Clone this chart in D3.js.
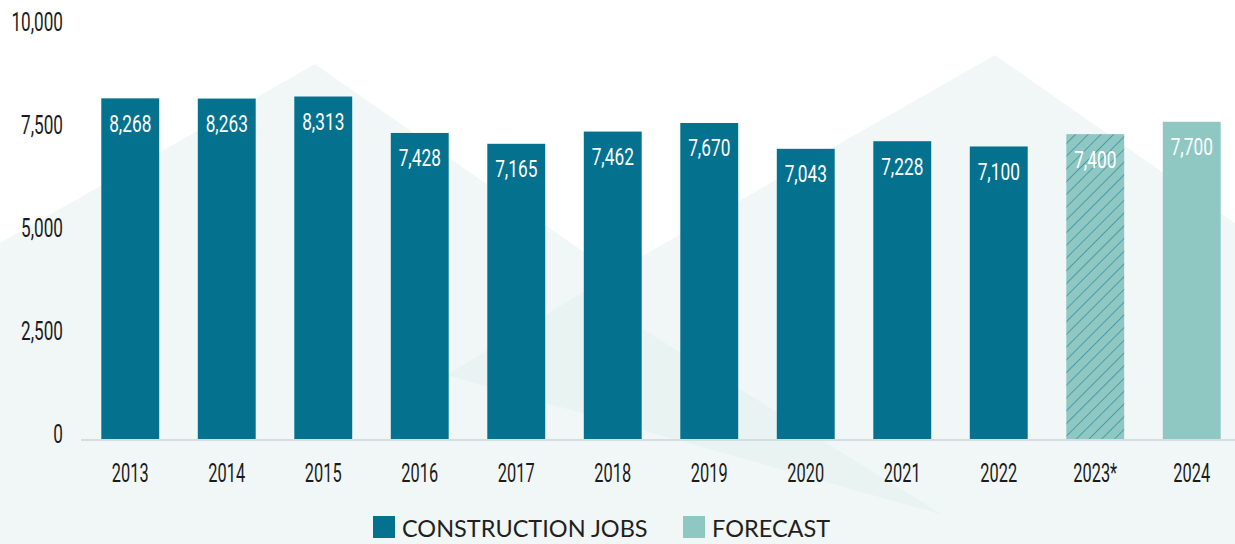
<!DOCTYPE html>
<html>
<head>
<meta charset="utf-8">
<script src="https://cdn.jsdelivr.net/npm/d3@7"></script>
<style>
  html, body { margin: 0; padding: 0; background: #fff; }
  svg { display: block; }
  .num { font-family: 'Roboto', 'Liberation Sans', sans-serif; }
  .leg { font-family: 'Lato', 'Noto Sans', sans-serif; }
</style>
</head>
<body>
<div id="chart"></div>
<script>
var years = ["2013", "2014", "2015", "2016", "2017", "2018", "2019", "2020", "2021", "2022", "2023*", "2024"];
var jobs = [8268, 8263, 8313, 7428, 7165, 7462, 7670, 7043, 7228, 7100, 7400, 7700];
var kinds = ["actual", "actual", "actual", "actual", "actual", "actual", "actual", "actual", "actual", "actual", "estimate", "forecast"];
var yTicks = [0, 2500, 5000, 7500, 10000];
var legendItems = ["CONSTRUCTION JOBS", "FORECAST"];

var W = 1235, H = 544;
var blue = "#04718f", mint = "#8fc8c3";

var svg = d3.select("#chart").append("svg").attr("width", W).attr("height", H);

// background mountains
var bg = svg.append("g");
bg.append("rect").attr("width", W).attr("height", H).attr("fill", "#fff");
var mountains = [
    [[0, 243], [315, 64], [1001, 544], [0, 544]],
    [[137, 544], [995, 55], [1235, 223], [1235, 544]]
];
bg.selectAll("path.m").data(mountains).enter().append("path")
    .attr("class", "m")
    .attr("d", function(d){ return "M" + d.join("L") + "Z"; })
    .attr("fill", "#f1f7f7");
bg.append("path")
    .attr("d", "M" + [[447, 375], [583, 292], [943, 515]].join("L") + "Z")
    .attr("fill", "#e9f3f2");

// hatch pattern for the 2023 estimate
var defs = svg.append("defs");
var pat = defs.append("pattern").attr("id", "hatch")
    .attr("patternUnits", "userSpaceOnUse")
    .attr("width", 9).attr("height", 9)
    .attr("patternTransform", "rotate(45)");
pat.append("rect").attr("width", 9).attr("height", 9).attr("fill", mint);
pat.append("line").attr("x1", 0).attr("y1", 0).attr("x2", 0).attr("y2", 9)
    .attr("stroke", blue).attr("stroke-width", 1);

var x = d3.scaleBand().domain(years).range([82, 1240]).paddingInner(0.4).paddingOuter(0.2);
var y = d3.scaleLinear().domain([0, 10000]).range([439, 27]);
var fmt = d3.format(",");

// condensed look: squeeze text horizontally
function squeeze(sel, px, py, s){
    sel.attr("transform", function(d, i){
        return "translate(" + px(d, i) + "," + py(d, i) + ") scale(" + s + ",1)";
    });
}

// y axis labels
svg.append("g").selectAll("text").data(yTicks).enter().append("text")
    .attr("class", "num")
    .attr("dy", "0.35em")
    .attr("text-anchor", "end")
    .attr("font-size", 26)
    .attr("fill", "#1b1b1b")
    .text(function(d){ return fmt(d); })
    .call(squeeze, function(){ return 63; }, function(d){ return y(d) - 5; }, 0.66);

// baseline
svg.append("line").attr("x1", 81).attr("x2", W)
    .attr("y1", y(0) + 1).attr("y2", y(0) + 1)
    .attr("stroke", "#d6dddf").attr("stroke-width", 2);

// bars
svg.append("g").selectAll("rect").data(jobs).enter().append("rect")
    .attr("x", function(d, i){ return x(years[i]); })
    .attr("y", function(d){ return y(d); })
    .attr("width", x.bandwidth())
    .attr("height", function(d){ return y(0) - y(d); })
    .attr("fill", function(d, i){
        return kinds[i] == "actual" ? blue : (kinds[i] == "estimate" ? "url(#hatch)" : mint);
    });

// value labels
svg.append("g").selectAll("text").data(jobs).enter().append("text")
    .attr("class", "num")
    .attr("dy", "0.35em")
    .attr("text-anchor", "middle")
    .attr("font-size", 24)
    .attr("fill", "#fff")
    .text(function(d){ return fmt(d); })
    .call(squeeze, function(d, i){ return x(years[i]) + x.bandwidth() / 2; },
          function(d){ return y(d) + 25; }, 0.72);

// x labels
svg.append("g").selectAll("text").data(years).enter().append("text")
    .attr("class", "num")
    .attr("dy", "0.35em")
    .attr("text-anchor", "middle")
    .attr("font-size", 26)
    .attr("fill", "#1b1b1b")
    .text(function(d){ return d; })
    .call(squeeze, function(d){ return x(d) + x.bandwidth() / 2; }, function(){ return 473; }, 0.63);

// legend
var legX = [373, 683];
var legColors = [blue, mint];
var leg = svg.append("g").selectAll("g").data(legendItems).enter().append("g")
    .attr("transform", function(d, i){ return "translate(" + legX[i] + ",516)"; });
leg.append("rect").attr("width", 22).attr("height", 22)
    .attr("fill", function(d, i){ return legColors[i]; });
leg.append("text").attr("class", "leg")
    .attr("x", 29).attr("y", 21)
    .attr("font-size", 23.5)
    .attr("fill", "#231f20")
    .text(function(d){ return d; });
</script>
</body>
</html>
